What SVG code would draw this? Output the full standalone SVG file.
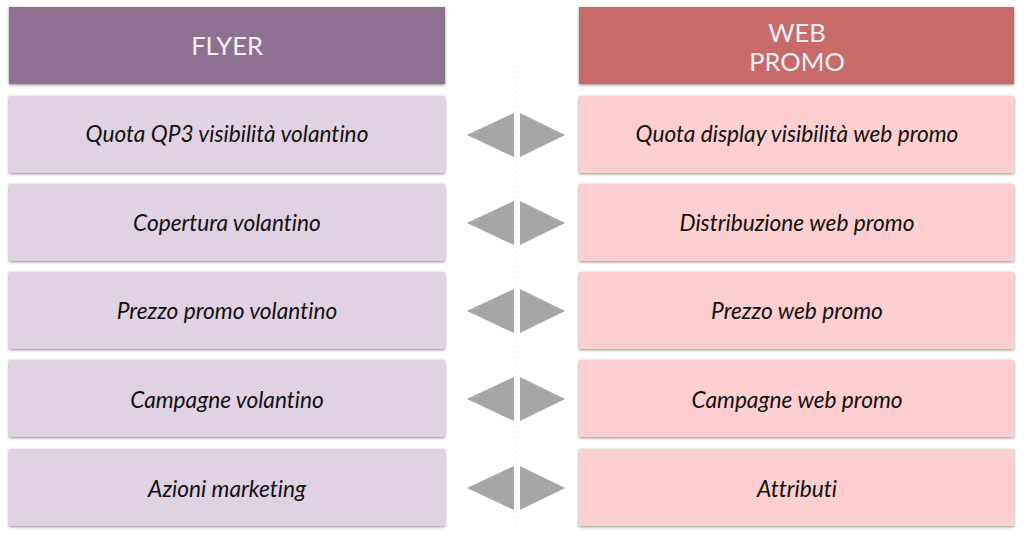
<svg xmlns="http://www.w3.org/2000/svg" width="1024" height="534" viewBox="0 0 1024 534">
<defs>
<filter id="sh" x="-5%" y="-10%" width="110%" height="125%">
<feGaussianBlur in="SourceAlpha" stdDeviation="1.5"/>
<feOffset dx="0" dy="1" result="b"/>
<feComponentTransfer><feFuncA type="linear" slope="0.45"/></feComponentTransfer>
<feMerge><feMergeNode/><feMergeNode in="SourceGraphic"/></feMerge>
</filter>
</defs>
<style>
.hl{fill:#8E7190}
.hr{fill:#C96B6B}
.bl{fill:#E0D2E2}
.br{fill:#FDCFD0}
.box{filter:url(#sh)}
.ht{font-family:Lato,"Liberation Sans",sans-serif;font-size:25.5px;fill:#F4F0F4;text-anchor:middle;font-variant-ligatures:none}
.t{font-family:Lato,"Liberation Sans",sans-serif;font-style:italic;font-size:22.7px;fill:#111;text-anchor:middle;font-variant-ligatures:none}
.ar{fill:#A6A6A6}
</style>
<rect width="1024" height="534" fill="#fff"/>
<line x1="516" y1="66" x2="516" y2="526" stroke="#EAEAEA" stroke-width="1" stroke-dasharray="2 3"/>
<g id="flyer-header"><rect class="box hl" x="9" y="7" width="436" height="77"/><text class="ht" x="227" y="55">FLYER</text></g>
<g id="web-header"><rect class="box hr" x="579" y="7" width="435" height="77"/><text class="ht" x="797" y="42">WEB</text><text class="ht" x="797" y="71">PROMO</text></g>
<g id="l1"><rect class="box bl" x="9" y="96" width="436" height="77"/><text class="t" x="227" y="142">Quota QP3 visibilità volantino</text></g>
<g id="l2"><rect class="box bl" x="9" y="184" width="436" height="77"/><text class="t" x="227" y="231">Copertura volantino</text></g>
<g id="l3"><rect class="box bl" x="9" y="272" width="436" height="77"/><text class="t" x="227" y="319">Prezzo promo volantino</text></g>
<g id="l4"><rect class="box bl" x="9" y="360" width="436" height="77"/><text class="t" x="227" y="408">Campagne volantino</text></g>
<g id="l5"><rect class="box bl" x="9" y="449" width="436" height="77"/><text class="t" x="227" y="497">Azioni marketing</text></g>
<g id="r1"><rect class="box br" x="579" y="96" width="435" height="77"/><text class="t" x="797" y="142">Quota display visibilità web promo</text></g>
<g id="r2"><rect class="box br" x="579" y="184" width="435" height="77"/><text class="t" x="797" y="231">Distribuzione web promo</text></g>
<g id="r3"><rect class="box br" x="579" y="272" width="435" height="77"/><text class="t" x="797" y="319">Prezzo web promo</text></g>
<g id="r4"><rect class="box br" x="579" y="360" width="435" height="77"/><text class="t" x="797" y="408">Campagne web promo</text></g>
<g id="r5"><rect class="box br" x="579" y="449" width="435" height="77"/><text class="t" x="797" y="497">Attributi</text></g>
<g id="connectors">
<g transform="translate(0,135)"><polygon class="ar" points="467,0 514,-22 514,22"/><polygon class="ar" points="520,-22 520,22 565,0"/></g>
<g transform="translate(0,223)"><polygon class="ar" points="467,0 514,-22 514,22"/><polygon class="ar" points="520,-22 520,22 565,0"/></g>
<g transform="translate(0,311)"><polygon class="ar" points="467,0 514,-22 514,22"/><polygon class="ar" points="520,-22 520,22 565,0"/></g>
<g transform="translate(0,399)"><polygon class="ar" points="467,0 514,-22 514,22"/><polygon class="ar" points="520,-22 520,22 565,0"/></g>
<g transform="translate(0,488)"><polygon class="ar" points="467,0 514,-22 514,22"/><polygon class="ar" points="520,-22 520,22 565,0"/></g>
</g>
</svg>
